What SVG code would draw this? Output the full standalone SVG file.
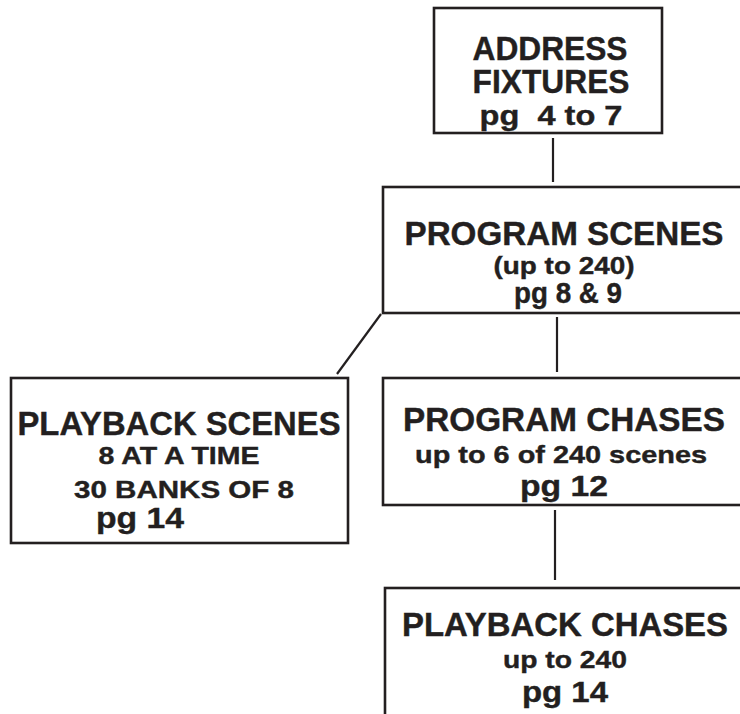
<svg xmlns="http://www.w3.org/2000/svg" width="740" height="714" viewBox="0 0 740 714">
<style>
.box{fill:#fff;stroke:#231f20;stroke-width:2.6}
.ln{stroke:#231f20;stroke-width:2.2;fill:none}
text{font-family:"Liberation Sans",Arial,Helvetica,sans-serif;font-weight:bold;fill:#231f20;stroke:#231f20;stroke-width:0.4;text-anchor:middle}
.big{font-size:32.5px}
.mid{font-size:24.5px}
.pg{font-size:30px}
.pg2{font-size:28px}
</style>
<rect width="740" height="714" fill="#fff"/>
<g id="connectors">
<line class="ln" x1="553" y1="138" x2="553" y2="182"/>
<line class="ln" x1="381" y1="314" x2="337" y2="374"/>
<line class="ln" x1="557" y1="317" x2="557" y2="372"/>
<line class="ln" x1="555" y1="510" x2="555" y2="580"/>
</g>
<g id="address-fixtures">
<rect class="box" x="434" y="8" width="228" height="125"/>
<text class="big" x="550" y="60" textLength="155" lengthAdjust="spacingAndGlyphs">ADDRESS</text>
<text class="big" x="551" y="93" textLength="157" lengthAdjust="spacingAndGlyphs">FIXTURES</text>
<text class="pg2" x="551" y="125" xml:space="preserve" textLength="143" lengthAdjust="spacingAndGlyphs">pg  4 to 7</text>
</g>
<g id="program-scenes">
<rect class="box" x="383" y="187" width="370" height="126"/>
<text class="big" x="564" y="245" textLength="319" lengthAdjust="spacingAndGlyphs">PROGRAM SCENES</text>
<text class="mid" x="564" y="274" textLength="141" lengthAdjust="spacingAndGlyphs">(up to 240)</text>
<text class="pg" x="568" y="303" textLength="108" lengthAdjust="spacingAndGlyphs">pg 8 &amp; 9</text>
</g>
<g id="playback-scenes">
<rect class="box" x="11" y="378" width="337" height="165"/>
<text class="big" x="179" y="435" textLength="323" lengthAdjust="spacingAndGlyphs">PLAYBACK SCENES</text>
<text class="mid" x="179" y="464" textLength="161" lengthAdjust="spacingAndGlyphs">8 AT A TIME</text>
<text class="mid" x="184" y="498" textLength="220" lengthAdjust="spacingAndGlyphs">30 BANKS OF 8</text>
<text class="pg" x="140" y="528" textLength="88" lengthAdjust="spacingAndGlyphs">pg 14</text>
</g>
<g id="program-chases">
<rect class="box" x="383" y="378" width="370" height="127"/>
<text class="big" x="564" y="431" textLength="322" lengthAdjust="spacingAndGlyphs">PROGRAM CHASES</text>
<text class="mid" x="561" y="463" textLength="292" lengthAdjust="spacingAndGlyphs">up to 6 of 240 scenes</text>
<text class="pg" x="564" y="496" textLength="88" lengthAdjust="spacingAndGlyphs">pg 12</text>
</g>
<g id="playback-chases">
<rect class="box" x="385" y="588" width="370" height="140"/>
<text class="big" x="565" y="636" textLength="326" lengthAdjust="spacingAndGlyphs">PLAYBACK CHASES</text>
<text class="mid" x="565" y="668" textLength="124" lengthAdjust="spacingAndGlyphs">up to 240</text>
<text class="pg" x="565" y="702" textLength="86" lengthAdjust="spacingAndGlyphs">pg 14</text>
</g>
</svg>
